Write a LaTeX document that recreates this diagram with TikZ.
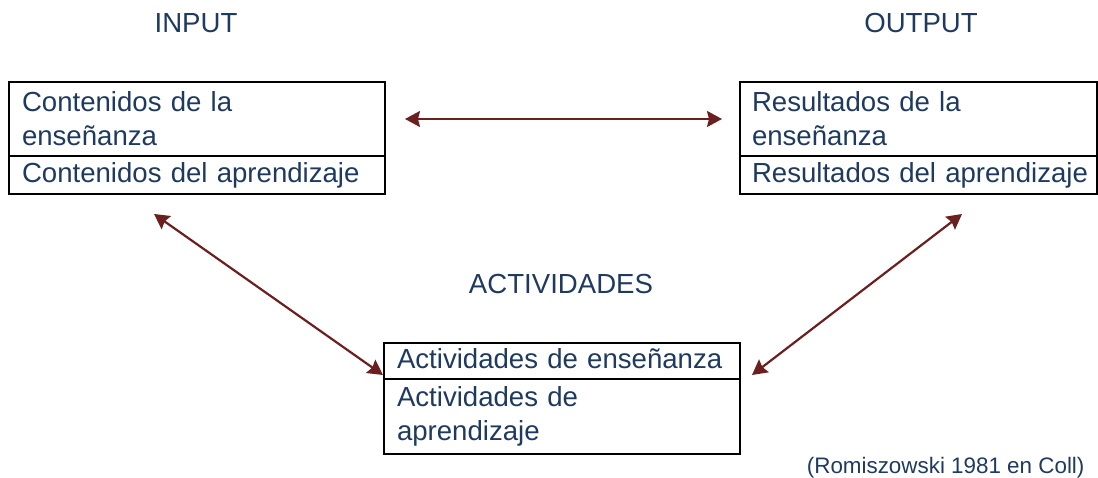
\documentclass[tikz,border=0pt]{standalone}
\usepackage{fontspec}
\setmainfont{Liberation Sans}
\usetikzlibrary{arrows.meta}
\definecolor{txtblue}{HTML}{1F3A5F}
\definecolor{arrowred}{HTML}{6B1F1F}
\hyphenpenalty=10000
\tikzset{
    cell/.style={draw=black, line width=2pt, rectangle, anchor=north west,
        inner xsep=13pt, inner ysep=0pt, align=left, text=txtblue,
        font=\fontsize{27.6}{34}\selectfont},
    head/.style={text=txtblue, font=\fontsize{27.6}{34}\selectfont},
    link/.style={{Stealth[length=15pt,width=16pt,inset=2pt]}-{Stealth[length=15pt,width=16pt,inset=2pt]},
        draw=arrowred, line width=2.2pt}
}
\begin{document}
\begin{tikzpicture}[x=1pt, y=-1pt]
    \useasboundingbox (0,0) rectangle (1098,478);
    % titulos
    \node[head, anchor=base] (input) at (196,33) {INPUT};
    \node[head, anchor=base] (output) at (921,33) {OUTPUT};
    \node[head, anchor=base] (activ) at (561,294) {ACTIVIDADES};
    % caja de entrada
    \node[cell, text width=350pt, minimum height=74pt] (contE) at (8,81)
        {Contenidos de la\\enseñanza};
    \node[cell, text width=350pt, minimum height=38pt] (contA) at (8,155)
        {\mbox{Contenidos del aprendizaje}};
    % caja de salida
    \node[cell, inner xsep=12pt, text width=333pt, minimum height=74pt] (resE) at (739,81)
        {Resultados de la\\enseñanza};
    \node[cell, inner xsep=12pt, text width=333pt, minimum height=38pt] (resA) at (739,155)
        {\mbox{Resultados del aprendizaje}};
    % caja de actividades
    \node[cell, text width=330pt, minimum height=36pt, text depth=4pt] (actE) at (383,342)
        {\mbox{Actividades de enseñanza}};
    \node[cell, text width=330pt, minimum height=75pt] (actA) at (383,378)
        {Actividades de\\aprendizaje};
    % extremos de las flechas
    \coordinate (inEnd) at (154,214);
    \coordinate (outEnd) at (962,214);
    \coordinate (actL) at (383,375);
    \coordinate (actR) at (752,375);
    \draw[link, shorten <=19pt, shorten >=17pt] (contE.east) -- (resE.west);
    \draw[link] (inEnd) -- (actL);
    \draw[link] (outEnd) -- (actR);
    % cita
    \node[text=txtblue, font=\fontsize{22.4}{27}\selectfont, anchor=base east]
        (cita) at (1088,473) {(Romiszowski 1981 en Coll)};
\end{tikzpicture}
\end{document}
